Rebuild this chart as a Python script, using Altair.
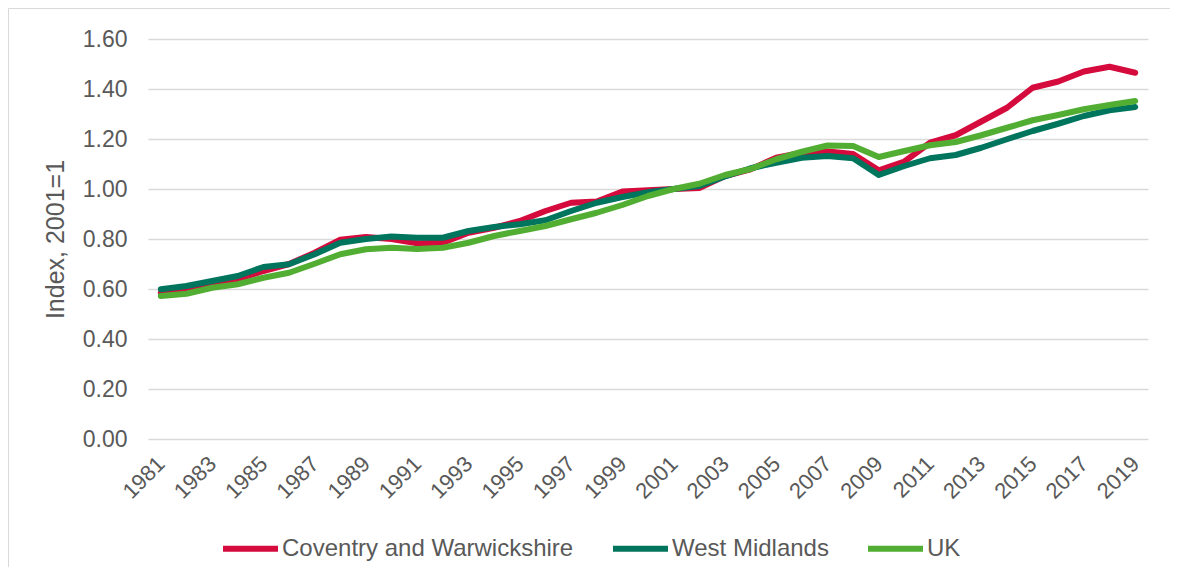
import altair as alt
import pandas as pd

years = list(range(1981, 2020))
coventry = [0.585, 0.598, 0.621, 0.639, 0.672, 0.700, 0.745, 0.797, 0.808, 0.800,
            0.783, 0.785, 0.825, 0.845, 0.872, 0.912, 0.945, 0.950, 0.990, 0.995,
            1.000, 1.004, 1.052, 1.079, 1.125, 1.145, 1.150, 1.140, 1.075, 1.110,
            1.185, 1.215, 1.270, 1.325, 1.405, 1.430, 1.470, 1.489, 1.465]
west_midlands = [0.599, 0.612, 0.632, 0.652, 0.688, 0.699, 0.739, 0.785, 0.800, 0.810,
                 0.805, 0.805, 0.832, 0.848, 0.859, 0.875, 0.912, 0.945, 0.968, 0.987,
                 1.000, 1.012, 1.050, 1.083, 1.105, 1.125, 1.132, 1.123, 1.056, 1.092,
                 1.123, 1.136, 1.165, 1.199, 1.232, 1.261, 1.292, 1.315, 1.328]
uk = [0.572, 0.581, 0.605, 0.619, 0.645, 0.665, 0.701, 0.739, 0.759, 0.765,
      0.760, 0.765, 0.785, 0.812, 0.832, 0.852, 0.879, 0.905, 0.936, 0.972,
      1.000, 1.021, 1.056, 1.080, 1.119, 1.149, 1.174, 1.172, 1.128, 1.152,
      1.175, 1.188, 1.215, 1.245, 1.275, 1.296, 1.319, 1.336, 1.352]

series_names = ["Coventry and Warwickshire", "West Midlands", "UK"]
series_colors = ["#d40b3c", "#00755e", "#52ae32"]
y_ticks = [0.0, 0.2, 0.4, 0.6, 0.8, 1.0, 1.2, 1.4, 1.6]
x_ticks = list(range(1981, 2020, 2))

rows = []
for name, vals in zip(series_names, [coventry, west_midlands, uk]):
    for yr, v in zip(years, vals):
        rows.append({"year": yr, "value": v, "series": name})
df = pd.DataFrame(rows)

text_color = "#595959"

lines = alt.Chart(df).mark_line(strokeWidth=6, strokeCap="round", strokeJoin="round").encode(
    x=alt.X("year:Q",
            scale=alt.Scale(domain=[1980.5, 2019.5], nice=False, zero=False),
            axis=alt.Axis(values=x_ticks, format="d", labelAngle=-45, labelAlign="right",
                          labelBaseline="middle", labelPadding=21, grid=False, domain=False,
                          ticks=False, tickSize=0, labelFontSize=22, labelColor=text_color,
                          title=None, labelFlush=False, labelOverlap=False)),
    y=alt.Y("value:Q",
            scale=alt.Scale(domain=[0, 1.6], nice=False),
            axis=alt.Axis(values=y_ticks, format=".2f", grid=True, gridColor="#d9d9d9",
                          gridWidth=1.3, domain=False, ticks=False, tickSize=0, labelPadding=21,
                          labelFontSize=23, labelColor=text_color, title="Index, 2001=1",
                          titleFontSize=25, titleFontWeight="normal", titleColor=text_color,
                          titleX=-80, titleY=200)),
    color=alt.Color("series:N",
                    scale=alt.Scale(domain=series_names, range=series_colors),
                    legend=alt.Legend(orient="none", legendX=72, legendY=479,
                                      direction="horizontal", title=None, symbolType="stroke",
                                      symbolSize=3025, symbolStrokeWidth=6, labelFontSize=24,
                                      labelColor=text_color, labelOffset=1, columnPadding=27,
                                      labelLimit=500)),
)

frame = alt.Chart(pd.DataFrame({"a": [0]})).mark_rect(
    fillOpacity=0, stroke="#d9d9d9", strokeWidth=1
).encode(
    x=alt.value(-139.5), x2=alt.value(1200), y=alt.value(-30.5), y2=alt.value(600)
)

chart = alt.layer(frame, lines).properties(
    width=1000, height=400,
    autosize=alt.AutoSizeParams(type="none"),
    padding={"left": 140, "top": 31, "right": 22, "bottom": 128},
).configure(
    font="Liberation Sans",
    background="white",
).configure_view(stroke=None)

chart.save("out.html", embed_options={"renderer": "svg", "actions": False})
